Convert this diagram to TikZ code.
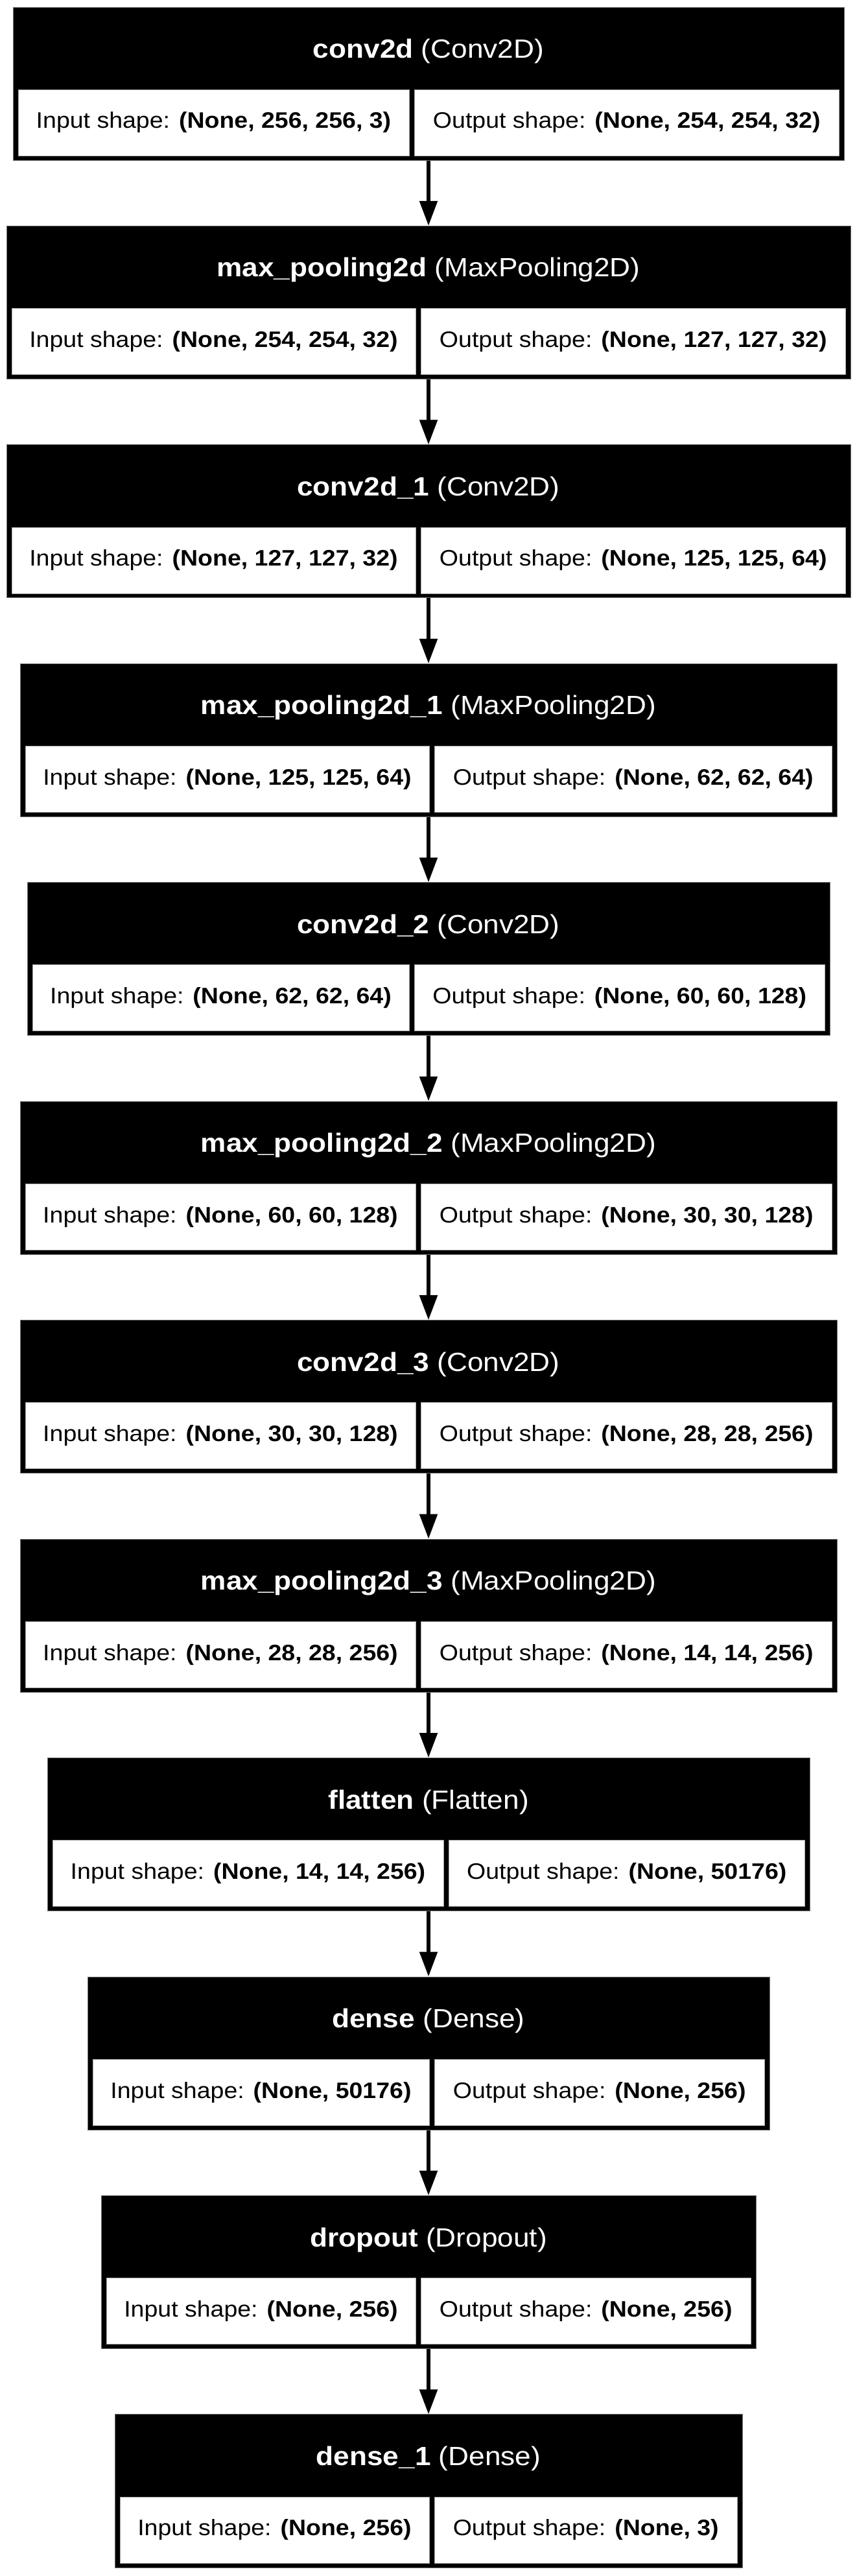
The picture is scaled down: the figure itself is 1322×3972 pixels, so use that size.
\documentclass[tikz,border=0pt]{standalone}
\usepackage{fontspec}
\setmainfont{Liberation Sans}
\usepackage{graphicx}
\usetikzlibrary{arrows.meta}
\newcommand\cellfont{\fontsize{18.75pt}{22pt}\selectfont}
\newcommand\headfont{\fontsize{22.1pt}{26pt}\selectfont}
\newcommand\sqz[1]{\scalebox{1}[0.92]{#1}}
\tikzset{
  layerbox/.style={rectangle, fill=black, draw=black!55, line width=0.5pt, inner sep=0pt},
  cellbox/.style={rectangle, fill=white, draw=black!35, line width=0.4pt, inner sep=0pt, minimum height=51pt, font=\cellfont},
  headtext/.style={text=white, inner sep=0pt, font=\headfont},
  flow/.style={line width=2.6pt, -{Triangle[length=19pt,width=13.5pt]}},
}
% #1 name, #2 index, #3 left, #4 right, #5 divider, #6 layer name, #7 class, #8 input, #9 output
\newcommand\layer[9]{%
  \pgfmathsetmacro\T{11+337.45*#2}%
  \pgfmathsetmacro\W{(#4-#3)/2}%
  \pgfmathsetmacro\CX{(#3+#4)/2}%
  \pgfmathsetmacro\WI{(#5-#3-8)/2}%
  \pgfmathsetmacro\XI{(#3+8+#5)/2}%
  \pgfmathsetmacro\WO{(#4-8-#5-8.5)/2}%
  \pgfmathsetmacro\XO{(#5+8.5+#4-8)/2}%
  \node[layerbox, minimum width=\W pt, minimum height=118pt] (#1) at (\CX,\T+118) {};
  \node[headtext] (#1h) at (\CX,\T+68) {\sqz{\textbf{#6} (#7)}};
  \node[cellbox, minimum width=\WI pt] (#1i) at (\XI,\T+178) {\sqz{Input shape: \textbf{#8}}};
  \node[cellbox, minimum width=\WO pt] (#1o) at (\XO,\T+178) {\sqz{Output shape: \textbf{#9}}};
}
\begin{document}
\begin{tikzpicture}[x=0.5pt,y=-0.5pt]
\fill[white] (0,0) rectangle (1322,3972);
\useasboundingbox (0,0) rectangle (1322,3972);
\layer{b0}{0}{20}{1302}{631}{conv2d}{Conv2D}{(None, 256, 256, 3)}{(None, 254, 254, 32)}
\layer{b1}{1}{10}{1312}{641}{max\_pooling2d}{MaxPooling2D}{(None, 254, 254, 32)}{(None, 127, 127, 32)}
\layer{b2}{2}{10}{1312}{641}{conv2d\_1}{Conv2D}{(None, 127, 127, 32)}{(None, 125, 125, 64)}
\layer{b3}{3}{31}{1291}{662}{max\_pooling2d\_1}{MaxPooling2D}{(None, 125, 125, 64)}{(None, 62, 62, 64)}
\layer{b4}{4}{42}{1280}{631}{conv2d\_2}{Conv2D}{(None, 62, 62, 64)}{(None, 60, 60, 128)}
\layer{b5}{5}{31}{1291}{641}{max\_pooling2d\_2}{MaxPooling2D}{(None, 60, 60, 128)}{(None, 30, 30, 128)}
\layer{b6}{6}{31}{1291}{641}{conv2d\_3}{Conv2D}{(None, 30, 30, 128)}{(None, 28, 28, 256)}
\layer{b7}{7}{31}{1291}{641}{max\_pooling2d\_3}{MaxPooling2D}{(None, 28, 28, 256)}{(None, 14, 14, 256)}
\layer{b8}{8}{73}{1249}{684}{flatten}{Flatten}{(None, 14, 14, 256)}{(None, 50176)}
\layer{b9}{9}{135}{1187}{662}{dense}{Dense}{(None, 50176)}{(None, 256)}
\layer{b10}{10}{156}{1166}{641}{dropout}{Dropout}{(None, 256)}{(None, 256)}
\layer{b11}{11}{177}{1145}{662}{dense\_1}{Dense}{(None, 256)}{(None, 3)}
\foreach \a/\b in {b0/b1,b1/b2,b2/b3,b3/b4,b4/b5,b5/b6,b6/b7,b7/b8,b8/b9,b9/b10,b10/b11}
  \draw[flow] (\a) -- (\b);
\end{tikzpicture}
\end{document}
